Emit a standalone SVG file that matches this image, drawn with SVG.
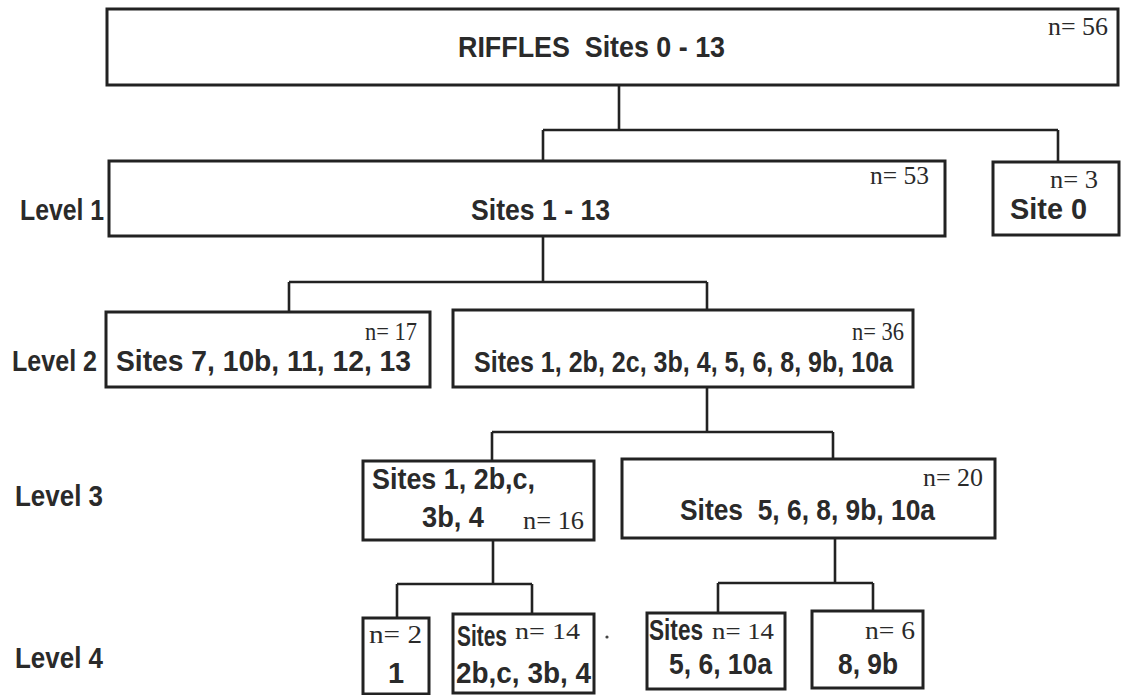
<svg xmlns="http://www.w3.org/2000/svg" width="1122" height="695" viewBox="0 0 1122 695">
<style>
.box{fill:#fff;stroke:#222;stroke-width:3}
.ln{fill:none;stroke:#222;stroke-width:2.6}
.t{font-family:"Liberation Sans",Arial,sans-serif;font-weight:bold;font-size:29px;fill:#2a2a2a;white-space:pre}
.n{font-family:"Liberation Serif","Times New Roman",serif;font-size:25px;fill:#2a2a2a;white-space:pre}
.s{font-size:23px}
.lv{font-family:"Liberation Sans",Arial,sans-serif;font-weight:bold;font-size:29px;fill:#2a2a2a}
</style>
<rect width="1122" height="695" fill="#fff"/>
<g id="connectors">
<path class="ln" d="M619 85V130M543 130H1058M543 130V161M1058 130V162"/>
<path class="ln" d="M543 236V282M289 282H707M289 282V312M707 282V310"/>
<path class="ln" d="M707 387V432M492 432H833M492 432V461M833 432V459"/>
<path class="ln" d="M493 540V584M397 584H532M397 584V618M532 584V614"/>
<path class="ln" d="M835 538V583M718 583H873M718 583V613M873 583V611"/>
</g>
<g id="labels">
<text class="lv" x="20" y="220" textLength="84" lengthAdjust="spacingAndGlyphs">Level 1</text>
<text class="lv" x="12" y="371" textLength="85" lengthAdjust="spacingAndGlyphs">Level 2</text>
<text class="lv" x="15" y="506" textLength="88" lengthAdjust="spacingAndGlyphs">Level 3</text>
<text class="lv" x="15" y="668" textLength="88" lengthAdjust="spacingAndGlyphs">Level 4</text>
</g>
<g id="root">
<rect class="box" x="107" y="9" width="1011" height="76"/>
<text class="t" x="458" y="57" textLength="267" lengthAdjust="spacingAndGlyphs">RIFFLES  Sites 0 - 13</text>
<text class="n" x="1048" y="35" textLength="60" lengthAdjust="spacingAndGlyphs">n= 56</text>
</g>
<g id="level1-sites1-13">
<rect class="box" x="109" y="161" width="836" height="75"/>
<text class="t" x="471" y="220" textLength="139" lengthAdjust="spacingAndGlyphs">Sites 1 - 13</text>
<text class="n" x="870" y="184" textLength="59" lengthAdjust="spacingAndGlyphs">n= 53</text>
</g>
<g id="level1-site0">
<rect class="box" x="993" y="162" width="126" height="73"/>
<text class="n" x="1050" y="188" textLength="48" lengthAdjust="spacingAndGlyphs">n= 3</text>
<text class="t" x="1010" y="219" textLength="77" lengthAdjust="spacingAndGlyphs">Site 0</text>
</g>
<g id="level2-left">
<rect class="box" x="106" y="312" width="324" height="75"/>
<text class="n" x="365" y="340" textLength="52" lengthAdjust="spacingAndGlyphs">n= 17</text>
<text class="t" x="116" y="371" textLength="295" lengthAdjust="spacingAndGlyphs">Sites 7, 10b, 11, 12, 13</text>
</g>
<g id="level2-right">
<rect class="box" x="453" y="310" width="460" height="77"/>
<text class="n" x="852" y="340" textLength="52" lengthAdjust="spacingAndGlyphs">n= 36</text>
<text class="t" x="474" y="372" textLength="419" lengthAdjust="spacingAndGlyphs">Sites 1, 2b, 2c, 3b, 4, 5, 6, 8, 9b, 10a</text>
</g>
<g id="level3-left">
<rect class="box" x="363" y="461" width="231" height="79"/>
<text class="t" x="372" y="489" textLength="163" lengthAdjust="spacingAndGlyphs">Sites 1, 2b,c,</text>
<text class="t" x="422" y="527" textLength="62" lengthAdjust="spacingAndGlyphs">3b, 4</text>
<text class="n" x="523" y="529" textLength="61" lengthAdjust="spacingAndGlyphs">n= 16</text>
</g>
<g id="level3-right">
<rect class="box" x="622" y="459" width="373" height="79"/>
<text class="n" x="923" y="486" textLength="60" lengthAdjust="spacingAndGlyphs">n= 20</text>
<text class="t" x="680" y="520" textLength="255" lengthAdjust="spacingAndGlyphs">Sites  5, 6, 8, 9b, 10a</text>
</g>
<g id="level4-a">
<rect class="box" x="363" y="618" width="66" height="76"/>
<text class="n" x="369" y="643" textLength="53" lengthAdjust="spacingAndGlyphs">n= 2</text>
<text class="t" x="388" y="683">1</text>
</g>
<g id="level4-b">
<rect class="box" x="453" y="614" width="141" height="79"/>
<text class="t" transform="translate(457 646) scale(0.72 1)">Sites</text>
<text class="n s" x="515" y="639" textLength="65" lengthAdjust="spacingAndGlyphs">n= 14</text>
<text class="t" x="456" y="683" textLength="135" lengthAdjust="spacingAndGlyphs">2b,c, 3b, 4</text>
</g>
<circle cx="607" cy="637" r="1.6" fill="#444"/>
<g id="level4-c">
<rect class="box" x="647" y="613" width="138" height="76"/>
<text class="t" transform="translate(649 640) scale(0.78 1)">Sites</text>
<text class="n s" x="712" y="639" textLength="62" lengthAdjust="spacingAndGlyphs">n= 14</text>
<text class="t" x="669" y="674" textLength="103" lengthAdjust="spacingAndGlyphs">5, 6, 10a</text>
</g>
<g id="level4-d">
<rect class="box" x="812" y="611" width="111" height="77"/>
<text class="n" x="865" y="639" textLength="50" lengthAdjust="spacingAndGlyphs">n= 6</text>
<text class="t" x="838" y="674" textLength="60" lengthAdjust="spacingAndGlyphs">8, 9b</text>
</g>
</svg>
